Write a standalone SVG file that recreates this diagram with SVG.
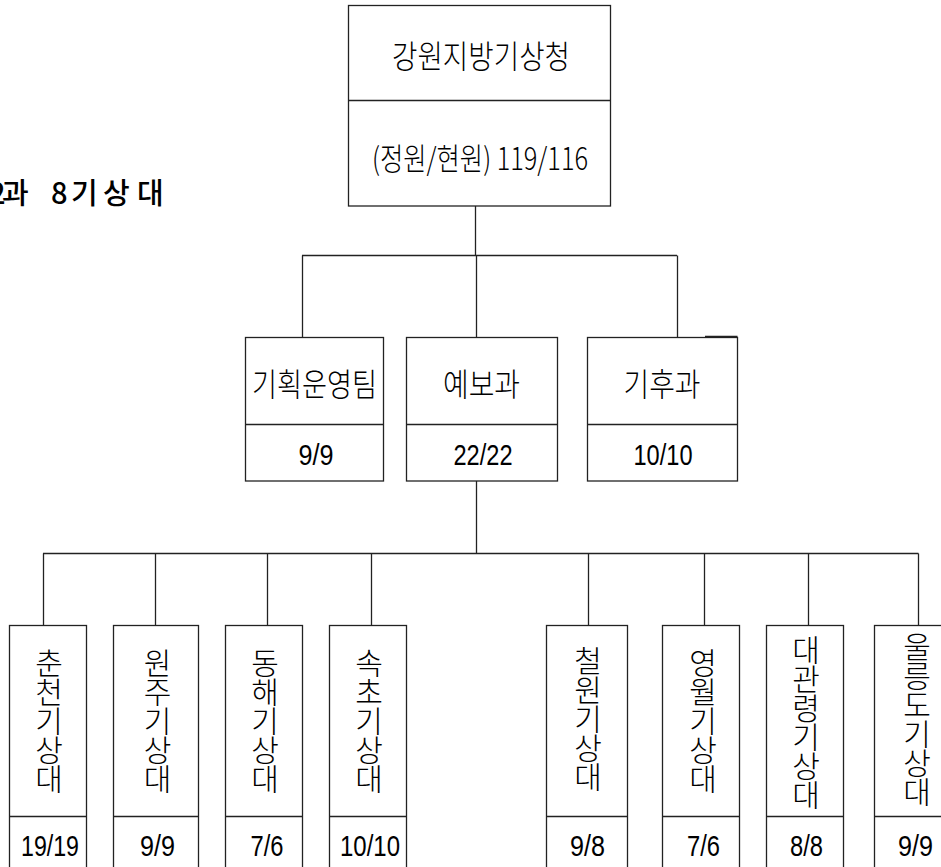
<svg xmlns="http://www.w3.org/2000/svg" width="941" height="867" viewBox="0 0 941 867">
<style>
.box{fill:#fff;stroke:#222;stroke-width:1.3}
.ln{stroke:#222;stroke-width:1.3;fill:none}
.ko{font-family:"Noto Sans CJK KR","Noto Sans",sans-serif;fill:#000;dominant-baseline:central;text-anchor:middle;font-weight:300}
.num{font-family:"Liberation Sans Narrow","Liberation Sans","DejaVu Sans",sans-serif;fill:#000;dominant-baseline:central;text-anchor:middle}
.vt{font-family:"Noto Sans CJK KR","Noto Sans",sans-serif;fill:#000;writing-mode:vertical-rl;text-orientation:upright;font-size:30px;letter-spacing:-1px;font-weight:300}
</style>
<rect width="941" height="867" fill="#fff"/>
<text x="-11 2 36 51 71 103 137" y="191" style="font-family:'Noto Sans CJK KR','Noto Sans',sans-serif;font-size:29px;font-weight:500;dominant-baseline:central">2과 8기상대</text>
<g id="connectors">
<line class="ln" x1="475.5" y1="206" x2="475.5" y2="255.5"/>
<line class="ln" x1="302" y1="255.5" x2="677" y2="255.5"/>
<line class="ln" x1="302.5" y1="255.5" x2="302.5" y2="337"/>
<line class="ln" x1="476.5" y1="255.5" x2="476.5" y2="337"/>
<line class="ln" x1="677.5" y1="255.5" x2="677.5" y2="337"/>
<line class="ln" x1="476.5" y1="481" x2="476.5" y2="553.5"/>
<line class="ln" x1="43" y1="553.5" x2="918.5" y2="553.5"/>
<line class="ln" x1="43.5" y1="553.5" x2="43.5" y2="625"/>
<line class="ln" x1="155.5" y1="553.5" x2="155.5" y2="625"/>
<line class="ln" x1="267.5" y1="553.5" x2="267.5" y2="625"/>
<line class="ln" x1="371.5" y1="553.5" x2="371.5" y2="625"/>
<line class="ln" x1="588.5" y1="553.5" x2="588.5" y2="625"/>
<line class="ln" x1="704.5" y1="553.5" x2="704.5" y2="625"/>
<line class="ln" x1="808.5" y1="553.5" x2="808.5" y2="625"/>
<line class="ln" x1="918.5" y1="553.5" x2="918.5" y2="625"/>
</g>
<g id="n-top">
<rect class="box" x="348.5" y="5.5" width="262" height="200.5"/>
<line class="ln" x1="348.5" y1="100.5" x2="610.5" y2="100.5"/>
<text class="ko" x="481" y="54" font-size="32" textLength="178" lengthAdjust="spacingAndGlyphs">강원지방기상청</text>
<text class="ko" x="480" y="156" font-size="31" textLength="216" lengthAdjust="spacingAndGlyphs">(정원/현원) 119/116</text>
</g>
<g id="n-plan">
<rect class="box" x="245.5" y="337.5" width="138" height="143.5"/>
<line class="ln" x1="245.5" y1="424.5" x2="383.5" y2="424.5"/>
<text class="ko" x="314.5" y="382" font-size="32" textLength="125" lengthAdjust="spacingAndGlyphs">기획운영팀</text>
<text class="num" x="316" y="454" font-size="30" textLength="35" lengthAdjust="spacingAndGlyphs">9/9</text>
</g>
<g id="n-forecast">
<rect class="box" x="406.5" y="337.5" width="151" height="143.5"/>
<line class="ln" x1="406.5" y1="424.5" x2="557.5" y2="424.5"/>
<text class="ko" x="481.5" y="382" font-size="32" textLength="77" lengthAdjust="spacingAndGlyphs">예보과</text>
<text class="num" x="483" y="454" font-size="30" textLength="59" lengthAdjust="spacingAndGlyphs">22/22</text>
</g>
<g id="n-climate">
<rect class="box" x="587.5" y="337.5" width="150" height="143.5"/>
<line class="ln" x1="587.5" y1="424.5" x2="737.5" y2="424.5"/>
<line class="ln" x1="705" y1="336.5" x2="737.5" y2="336.5"/>
<text class="ko" x="662" y="382" font-size="32" textLength="77" lengthAdjust="spacingAndGlyphs">기후과</text>
<text class="num" x="663" y="454" font-size="30" textLength="59" lengthAdjust="spacingAndGlyphs">10/10</text>
</g>
<g id="n-chuncheon">
<rect class="box" x="9.5" y="625.5" width="77" height="260"/>
<line class="ln" x1="9.5" y1="816.5" x2="86.5" y2="816.5"/>
<text class="vt" x="49" y="648">춘천기상대</text>
<text class="num" x="50" y="845" font-size="30" textLength="58" lengthAdjust="spacingAndGlyphs">19/19</text>
</g>
<g id="n-wonju">
<rect class="box" x="113.5" y="625.5" width="85" height="260"/>
<line class="ln" x1="113.5" y1="816.5" x2="198.5" y2="816.5"/>
<text class="vt" x="157.5" y="648">원주기상대</text>
<text class="num" x="157.5" y="845" font-size="30" textLength="35" lengthAdjust="spacingAndGlyphs">9/9</text>
</g>
<g id="n-donghae">
<rect class="box" x="225.5" y="625.5" width="77" height="260"/>
<line class="ln" x1="225.5" y1="816.5" x2="302.5" y2="816.5"/>
<text class="vt" x="265" y="648">동해기상대</text>
<text class="num" x="267" y="845" font-size="30" textLength="33" lengthAdjust="spacingAndGlyphs">7/6</text>
</g>
<g id="n-sokcho">
<rect class="box" x="329.5" y="625.5" width="77" height="260"/>
<line class="ln" x1="329.5" y1="816.5" x2="406.5" y2="816.5"/>
<text class="vt" x="369" y="648">속초기상대</text>
<text class="num" x="370" y="845" font-size="30" textLength="60" lengthAdjust="spacingAndGlyphs">10/10</text>
</g>
<g id="n-cheorwon">
<rect class="box" x="546.5" y="625.5" width="81" height="260"/>
<line class="ln" x1="546.5" y1="816.5" x2="627.5" y2="816.5"/>
<text class="vt" x="588" y="646">철원기상대</text>
<text class="num" x="587.5" y="845" font-size="30" textLength="35" lengthAdjust="spacingAndGlyphs">9/8</text>
</g>
<g id="n-yeongwol">
<rect class="box" x="662.5" y="625.5" width="77" height="260"/>
<line class="ln" x1="662.5" y1="816.5" x2="739.5" y2="816.5"/>
<text class="vt" x="703" y="648">영월기상대</text>
<text class="num" x="703.5" y="845" font-size="30" textLength="33" lengthAdjust="spacingAndGlyphs">7/6</text>
</g>
<g id="n-daegwallyeong">
<rect class="box" x="766.5" y="625.5" width="77" height="260"/>
<line class="ln" x1="766.5" y1="816.5" x2="843.5" y2="816.5"/>
<text class="vt" x="806" y="635">대관령기상대</text>
<text class="num" x="806.5" y="845" font-size="30" textLength="33" lengthAdjust="spacingAndGlyphs">8/8</text>
</g>
<g id="n-ulleungdo">
<rect class="box" x="874.5" y="625.5" width="90" height="260"/>
<line class="ln" x1="874.5" y1="816.5" x2="964.5" y2="816.5"/>
<text class="vt" x="917" y="632">울릉도기상대</text>
<text class="num" x="915.5" y="845" font-size="30" textLength="35" lengthAdjust="spacingAndGlyphs">9/9</text>
</g>
</svg>
